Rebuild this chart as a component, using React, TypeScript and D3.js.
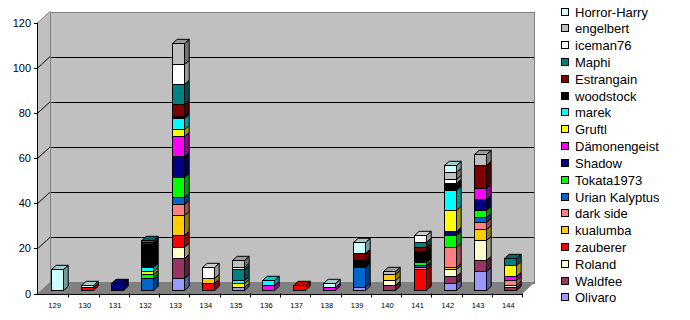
import React from 'react';
import * as d3 from 'd3';

const categories = ['129', '130', '131', '132', '133', '134', '135', '136', '137', '138', '139', '140', '141', '142', '143', '144'];

// stack order: bottom -> top
const seriesNames = ['Olivaro', 'Waldfee', 'Roland', 'zauberer', 'kualumba', 'dark side', 'Urian Kalyptus', 'Tokata1973', 'Shadow', 'Dämonengeist', 'Gruftl', 'marek', 'woodstock', 'Estrangain', 'Maphi', 'iceman76', 'engelbert', 'Horror-Harry'];

const olivaro = [0, 0, 0, 0, 5, 0, 1, 0, 0, 0, 1, 0, 0, 3, 8, 0];
const waldfee = [0, 0, 0, 0, 9, 0, 0, 0, 0, 0, 0, 2, 0, 3, 5, 1];
const roland = [0, 0, 0, 0, 5, 0, 0, 0, 0, 0, 0, 2, 0, 3, 9, 1];
const zauberer = [0, 1, 0, 0, 5, 3, 0, 0, 2, 0, 0, 0, 9, 0, 0, 0];
const kualumba = [0, 0, 0, 0, 9, 2, 0, 0, 0, 0, 0, 3, 0, 1, 5, 0];
const darkSide = [0, 0, 0, 0, 5, 0, 0, 0, 0, 0, 0, 0, 1, 9, 3, 2];
const urianKalyptus = [0, 0, 0, 5, 3, 0, 0, 0, 0, 0, 9, 0, 1, 0, 2, 0];
const tokata1973 = [0, 0, 0, 2, 9, 0, 0, 0, 0, 0, 0, 0, 1, 5, 3, 0];
const shadow = [0, 0, 3, 0, 9, 0, 0, 0, 0, 0, 0, 0, 0, 2, 5, 0];
const daemonengeist = [0, 0, 0, 0, 9, 0, 0, 2, 0, 1, 0, 0, 0, 0, 5, 2];
const gruftl = [0, 0, 0, 1, 3, 0, 2, 0, 0, 0, 0, 0, 0, 9, 0, 5];
const marek = [0, 0, 0, 2, 5, 0, 1, 2, 0, 0, 0, 0, 0, 9, 0, 0];
const woodstock = [0, 0, 0, 10, 1, 0, 0, 0, 0, 0, 3, 0, 5, 3, 0, 0];
const estrangain = [0, 0, 0, 1, 5, 0, 0, 0, 0, 0, 3, 0, 2, 0, 10, 0];
const maphi = [0, 0, 0, 1, 9, 0, 5, 0, 0, 0, 0, 0, 2, 0, 0, 3];
const iceman76 = [0, 0, 0, 0, 9, 5, 1, 0, 0, 0, 0, 0, 3, 2, 0, 0];
const engelbert = [0, 0, 0, 0, 9, 0, 3, 0, 0, 0, 0, 1, 0, 3, 5, 0];
const horrorHarry = [9, 1, 0, 0, 0, 0, 0, 0, 0, 2, 5, 0, 0, 3, 0, 0];

const seriesValues = [olivaro, waldfee, roland, zauberer, kualumba, darkSide, urianKalyptus, tokata1973, shadow, daemonengeist, gruftl, marek, woodstock, estrangain, maphi, iceman76, engelbert, horrorHarry];

const seriesColors = ['#9999FF', '#993366', '#FFFFCC', '#FF0000', '#FFCC00', '#FF8080', '#0066CC', '#00FF00', '#000080', '#FF00FF', '#FFFF00', '#00FFFF', '#000000', '#800000', '#008080', '#FFFFFF', '#C0C0C0', '#CCFFFF'];

const yTicks = [0, 20, 40, 60, 80, 100, 120];

function shade(c: string, f: number) {
  const r = d3.rgb(c);
  return d3.rgb(Math.round(r.r * f), Math.round(r.g * f), Math.round(r.b * f)).formatHex();
}

export default function App() {
  const W = 690, H = 320;
  const x = d3.scaleBand<string>().domain(categories).range([38, 522]);
  const y = d3.scaleLinear().domain([0, 120]).range([293.5, 22.5]);
  const DX = 12, DY = -11; // full depth
  const BOX = 3.6, BOY = -4; // bar front offset
  const BDX = 4.7, BDY = -4.2; // bar depth
  const bw = 12;
  const font = '"Liberation Sans", Arial, sans-serif';

  const rows = categories.map((c, i) => {
    const r: any = { cat: c };
    seriesNames.forEach((s, j) => (r[s] = seriesValues[j][i]));
    return r;
  });
  const stacked = d3.stack<any>().keys(seriesNames)(rows);

  const xL = x.range()[0], xR = x.range()[1];
  const yb0 = y(0) + DY, yb120 = y(120) + DY;

  const bars: any[] = [];
  categories.forEach((c, i) => {
    const bx = Math.round((x(c) as number) + (x.bandwidth() - bw) / 2 + BOX) + 0.5;
    let topIdx = -1;
    seriesNames.forEach((s, j) => { if (seriesValues[j][i] > 0) topIdx = j; });
    seriesNames.forEach((s, j) => {
      const v = seriesValues[j][i];
      if (v <= 0) return;
      const [v0, v1] = stacked[j][i];
      const yB = Math.round(y(v0) + BOY) + 0.5;
      const yT = Math.round(y(v1) + BOY) + 0.5;
      const col = seriesColors[j];
      bars.push(
        <g key={`${c}-${s}`}>
          <rect x={bx} y={yT} width={bw} height={yB - yT} fill={col} stroke="#000" strokeWidth={1} />
          <polygon
            points={`${bx + bw},${yT} ${bx + bw + BDX},${yT + BDY} ${bx + bw + BDX},${yB + BDY} ${bx + bw},${yB}`}
            fill={shade(col, 0.6)} stroke="#000" strokeWidth={1} strokeLinejoin="miter" />
          {j === topIdx && (
            <polygon
              points={`${bx},${yT} ${bx + bw},${yT} ${bx + bw + BDX},${yT + BDY} ${bx + BDX},${yT + BDY}`}
              fill={shade(col, 0.8)} stroke="#000" strokeWidth={1} />
          )}
        </g>
      );
    });
  });

  const legendNames = [...seriesNames].reverse();
  const legendColors = [...seriesColors].reverse();

  return (
    <svg width={W} height={H} style={{ position: 'absolute', left: 0, top: 0, background: '#fff' }}>
      {/* left side wall */}
      <polygon points={`${xL},${y(0)} ${xL + DX},${yb0} ${xL + DX},${yb120} ${xL},${y(120)}`} fill="#C0C0C0" />
      {/* back wall */}
      <rect x={xL + DX + 0.5} y={Math.round(yb120) + 0.5} width={xR - xL} height={Math.round(yb0) - Math.round(yb120)} fill="#C0C0C0" stroke="#808080" />
      {/* floor */}
      <polygon points={`${xL},${y(0)} ${xR},${y(0)} ${xR + DX},${yb0} ${xL + DX},${yb0}`} fill="#808080" stroke="#808080" />
      {/* gridlines */}
      {yTicks.filter(t => t > 0 && t < 120).map(t => (
        <g key={`g${t}`}>
          <line x1={xL + DX} x2={xR + DX} y1={Math.round(y(t) + DY) + 0.5} y2={Math.round(y(t) + DY) + 0.5} stroke="#000" />
          <line x1={xL} x2={xL + DX} y1={y(t)} y2={y(t) + DY} stroke="#000" />
        </g>
      ))}
      <line x1={xL} x2={xL + DX} y1={y(120)} y2={yb120} stroke="#808080" />
      <line x1={xL + DX + 0.5} x2={xL + DX + 0.5} y1={yb120} y2={yb0} stroke="#808080" />
      {/* bars */}
      {bars}
      {/* y axis */}
      <line x1={xL - 0.5} x2={xL - 0.5} y1={y(120)} y2={y(0) + 0.5} stroke="#000" />
      {yTicks.map(t => (
        <g key={`yt${t}`}>
          <line x1={xL - 4} x2={xL} y1={Math.round(y(t)) + 0.5} y2={Math.round(y(t)) + 0.5} stroke="#000" />
          <text x={xL - 7} y={y(t) + 4} textAnchor="end" fontFamily={font} fontSize={11} fill="#000">{t}</text>
        </g>
      ))}
      {/* x axis */}
      <line x1={xL - 0.5} x2={xR} y1={Math.round(y(0)) + 0.5} y2={Math.round(y(0)) + 0.5} stroke="#000" />
      {categories.map((c, i) => (
        <line key={`xt${c}`} x1={Math.round((x(c) as number) + x.bandwidth()) + 0.5} x2={Math.round((x(c) as number) + x.bandwidth()) + 0.5}
          y1={y(0)} y2={y(0) + 4} stroke="#000" />
      ))}
      {categories.map(c => (
        <text key={`xl${c}`} x={(x(c) as number) + x.bandwidth() / 2 + 1.5} y={y(0) + 14} textAnchor="middle" fontFamily={font} fontSize={7.5} fill="#000">{c}</text>
      ))}
      {/* legend */}
      {legendNames.map((n, k) => {
        const cy = 11.5 + k * 16.82;
        return (
          <g key={`lg${n}`}>
            <rect x={561.5} y={Math.round(cy - 4) + 0.5} width={7} height={7} fill={legendColors[k]} stroke="#000" />
            <text x={575} y={cy + 5} fontFamily={font} fontSize={13} fill="#000">{n}</text>
          </g>
        );
      })}
    </svg>
  );
}
